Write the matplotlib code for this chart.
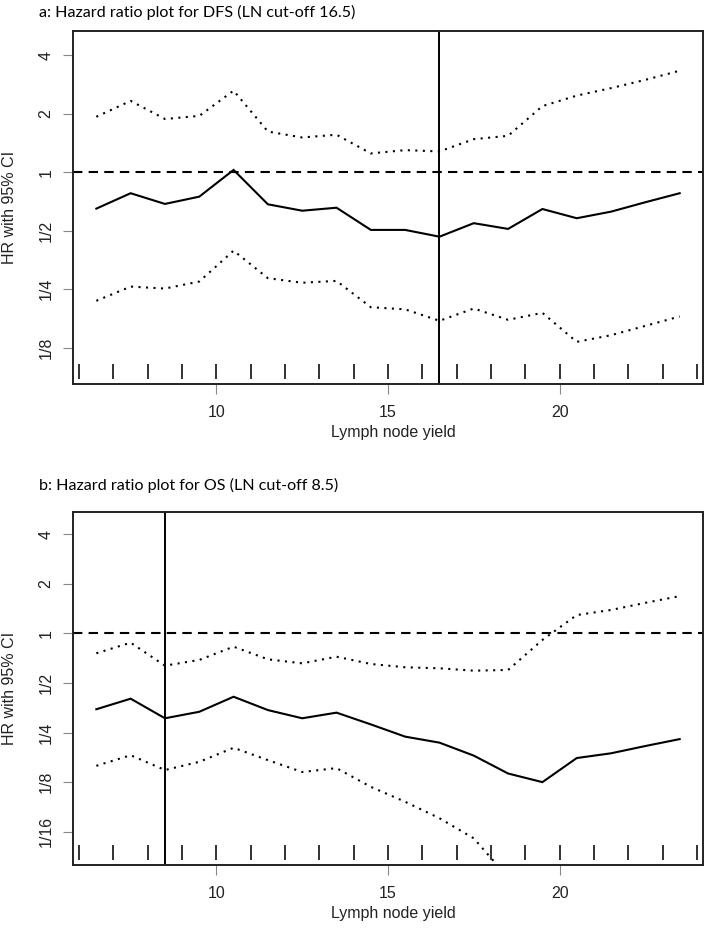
import numpy as np
import matplotlib.pyplot as plt
from matplotlib.transforms import blended_transform_factory

# lymph node yield where the HR was evaluated
ln_yield = [6.5, 7.5, 8.5, 9.5, 10.5, 11.5, 12.5, 13.5, 14.5, 15.5,
            16.5, 17.5, 18.5, 19.5, 20.5, 21.5, 22.5, 23.5]

# a: DFS
dfs_hr = [0.650, 0.780, 0.687, 0.749, 1.028, 0.684, 0.634, 0.657, 0.505, 0.505,
          0.466, 0.547, 0.511, 0.647, 0.580, 0.627, 0.701, 0.780]
dfs_hi = [1.93, 2.33, 1.88, 1.95, 2.63, 1.62, 1.51, 1.56, 1.25, 1.30,
          1.28, 1.48, 1.54, 2.19, 2.48, 2.71, 2.99, 3.33]
dfs_lo = [0.218, 0.258, 0.252, 0.274, 0.395, 0.285, 0.270, 0.276, 0.202, 0.197,
          0.172, 0.199, 0.174, 0.189, 0.134, 0.145, 0.162, 0.181]
dfs_cut = 16.5

# b: OS
os_hr = [0.346, 0.401, 0.305, 0.334, 0.412, 0.342, 0.305, 0.330, 0.280, 0.236,
         0.217, 0.181, 0.141, 0.125, 0.175, 0.187, 0.207, 0.228]
os_hi = [0.756, 0.877, 0.636, 0.689, 0.829, 0.695, 0.657, 0.721, 0.651, 0.622,
         0.613, 0.593, 0.599, 0.911, 1.29, 1.385, 1.53, 1.68]
os_lo = [0.157, 0.182, 0.148, 0.166, 0.202, 0.170, 0.144, 0.152, 0.117, 0.095,
         0.0755, 0.057, 0.033, 0.025, 0.030, 0.028, 0.030, 0.031]
os_cut = 8.5

# observed lymph node counts (rug)
rug_pos = [6, 7, 8, 9, 10, 11, 12, 13, 14, 15, 16, 17, 18, 19, 20, 21, 22, 23, 24]

ticks_a = [4, 2, 1, 1/2, 1/4, 1/8]
labels_a = ['4', '2', '1', '1/2', '1/4', '1/8']
ticks_b = [4, 2, 1, 1/2, 1/4, 1/8, 1/16]
labels_b = ['4', '2', '1', '1/2', '1/4', '1/8', '1/16']

plt.rcParams['font.family'] = ['Liberation Sans', 'DejaVu Sans']

fig = plt.figure(figsize=(7.06, 9.30), dpi=100)
W, H = 706, 930


def panel(rect, hr, lo, hi, cut, ticks, labels, ylim):
    ax = fig.add_axes(rect)
    dot = (0, (1, 2.6))
    ax.plot(ln_yield, hr, color='black', lw=1.5, solid_joinstyle='miter')
    ax.plot(ln_yield, hi, color='black', lw=1.5, linestyle=dot)
    ax.plot(ln_yield, lo, color='black', lw=1.5, linestyle=dot)
    ax.axhline(1, color='black', lw=1.5, linestyle=(0, (4.5, 3)))
    ax.axvline(cut, color='black', lw=1.4)
    tr = blended_transform_factory(ax.transData, ax.transAxes)
    ax.vlines(rug_pos, 0.014, 0.056, transform=tr, color='#222222', lw=1.3)
    ax.set_yscale('log')
    ax.set_xlim(5.82, 24.18)
    ax.set_ylim(*ylim)
    ax.set_xticks([10, 15, 20])
    ax.set_xticklabels(['10', '15', '20'])
    ax.yaxis.set_minor_locator(plt.NullLocator())
    ax.set_yticks(ticks)
    ax.set_yticklabels(labels, rotation=90, va='center')
    ax.tick_params(axis='both', length=7, width=0.8, color='#888888',
                   labelsize=11.5, labelcolor='#222222')
    ax.tick_params(axis='y', pad=7)
    ax.tick_params(axis='x', pad=8)
    for s in ax.spines.values():
        s.set_linewidth(1.4)
        s.set_color('#222222')
    ax.set_xlabel('Lymph node yield', fontsize=11.5, color='#222222')
    ax.xaxis.set_label_coords(0.509, -0.116)
    return ax


l, r = 73 / W, 703 / W
panel([l, 1 - 384 / H, r - l, (384 - 31) / H], dfs_hr, dfs_lo, dfs_hi, dfs_cut,
      ticks_a, labels_a, (2 ** -3.62, 2 ** 2.415))
panel([l, 1 - 865 / H, r - l, (865 - 511.7) / H], os_hr, os_lo, os_hi, os_cut,
      ticks_b, labels_b, (2 ** -4.67, 2 ** 2.45))

# y labels placed in figure pixels
for yc in [(31 + 384) / 2, (511.7 + 865) / 2]:
    fig.text(9.5 / W, 1 - yc / H, 'HR with 95% CI', rotation=90, fontsize=11.5,
             color='#222222', ha='center', va='center')

fig.text(39 / W, 1 - 12 / H, 'a: Hazard ratio plot for DFS (LN cut-off 16.5)',
         family=['Lato', 'DejaVu Sans'], fontsize=11.6, va='center', ha='left')
fig.text(39 / W, 1 - 485 / H, 'b: Hazard ratio plot for OS (LN cut-off 8.5)',
         family=['Lato', 'DejaVu Sans'], fontsize=11.6, va='center', ha='left')

fig.savefig('out.png', dpi=100)
